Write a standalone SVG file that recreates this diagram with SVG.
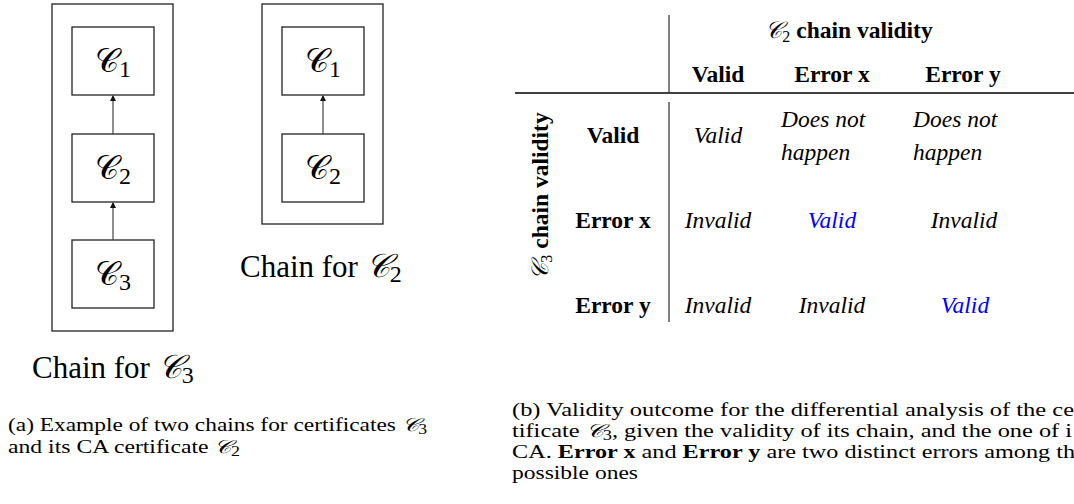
<svg xmlns="http://www.w3.org/2000/svg" width="1074" height="504" viewBox="0 0 1074 504">
<style>
  .frame { fill: none; stroke: #222; stroke-width: 1.3; }
  .node { fill: #fff; stroke: #222; stroke-width: 1.3; }
  .conn { stroke: #444; stroke-width: 1.2; fill: none; }
  .big { font-family: "Liberation Serif", serif; font-size: 31px; fill: #000; }
  .math { font-family: "DejaVu Serif", "DejaVu Sans", "Liberation Serif", serif; }
  .mc { font-size: 33px; }
  .sub { font-size: 24px; }
  .tb { font-family: "Liberation Serif", serif; font-size: 23.5px; fill: #000; }
  .b { font-weight: bold; }
  .it { font-style: italic; }
  .blue { fill: #0000ff; }
  .cap { font-family: "Liberation Serif", serif; font-size: 18.5px; fill: #000; }
  .rule { stroke: #000; stroke-width: 1; }
</style>
<defs>
  <marker id="ah" markerWidth="6" markerHeight="7" refX="5" refY="3" orient="auto" markerUnits="userSpaceOnUse">
    <path d="M0,0 L6,3 L0,6 Z" fill="#111"/>
  </marker>
</defs>

<!-- Panel (a) -->
<g id="chain3">
  <rect class="frame" x="52" y="4" width="121" height="327"/>
  <text class="big" x="32" y="378">Chain for <tspan class="math mc" font-style="italic">𝒞</tspan><tspan class="sub" dy="5">3</tspan></text>
</g>
<g id="chain2">
  <rect class="frame" x="262" y="4" width="121" height="220"/>
  <text class="big" x="240" y="277">Chain for <tspan class="math mc" font-style="italic">𝒞</tspan><tspan class="sub" dy="5">2</tspan></text>
</g>
<g id="c3-c1">
  <rect class="node" x="72" y="27" width="82" height="68"/>
  <text class="big" x="113" y="72" text-anchor="middle"><tspan class="math mc">𝒞</tspan><tspan class="sub" dy="5">1</tspan></text>
</g>
<g id="c3-c2">
  <rect class="node" x="72" y="134" width="82" height="68"/>
  <text class="big" x="113" y="179" text-anchor="middle"><tspan class="math mc">𝒞</tspan><tspan class="sub" dy="5">2</tspan></text>
</g>
<g id="c3-c3">
  <rect class="node" x="72" y="240" width="82" height="68"/>
  <text class="big" x="113" y="285" text-anchor="middle"><tspan class="math mc">𝒞</tspan><tspan class="sub" dy="5">3</tspan></text>
</g>
<g id="c2-c1">
  <rect class="node" x="282" y="27" width="82" height="68"/>
  <text class="big" x="323" y="72" text-anchor="middle"><tspan class="math mc">𝒞</tspan><tspan class="sub" dy="5">1</tspan></text>
</g>
<g id="c2-c2">
  <rect class="node" x="282" y="134" width="82" height="68"/>
  <text class="big" x="323" y="179" text-anchor="middle"><tspan class="math mc">𝒞</tspan><tspan class="sub" dy="5">2</tspan></text>
</g>
<g id="connectors">
  <line class="conn" x1="113" y1="240" x2="113" y2="203" marker-end="url(#ah)"/>
  <line class="conn" x1="113" y1="134" x2="113" y2="96" marker-end="url(#ah)"/>
  <line class="conn" x1="323" y1="134" x2="323" y2="96" marker-end="url(#ah)"/>
</g>

<!-- Panel (b) table -->
<g id="table">
  <line class="rule" x1="669" y1="15" x2="669" y2="92"/>
  <line class="rule" x1="669" y1="102" x2="669" y2="322"/>
  <line x1="515" y1="93" x2="1074" y2="93" stroke="#000" stroke-width="1.4"/>
  <text class="tb b" x="849" y="38" text-anchor="middle"><tspan class="math" font-weight="normal" font-style="italic">𝒞</tspan><tspan font-size="16" dy="4" font-weight="normal">2</tspan><tspan dy="-4"> chain validity</tspan></text>
  <text class="tb b" x="718" y="82" text-anchor="middle">Valid</text>
  <text class="tb b" x="832" y="82" text-anchor="middle">Error x</text>
  <text class="tb b" x="963" y="82" text-anchor="middle">Error y</text>
  <text class="tb b" transform="translate(548,196) rotate(-90)" text-anchor="middle"><tspan class="math" font-weight="normal" font-style="italic">𝒞</tspan><tspan font-size="16" dy="4" font-weight="normal">3</tspan><tspan dy="-4"> chain validity</tspan></text>
  <text class="tb b" x="613" y="143" text-anchor="middle">Valid</text>
  <text class="tb b" x="613" y="228" text-anchor="middle">Error x</text>
  <text class="tb b" x="613" y="313" text-anchor="middle">Error y</text>
  <text class="tb it" x="718" y="143" text-anchor="middle">Valid</text>
  <text class="tb it" x="781" y="127">Does not</text>
  <text class="tb it" x="781" y="160">happen</text>
  <text class="tb it" x="913" y="127">Does not</text>
  <text class="tb it" x="913" y="160">happen</text>
  <text class="tb it" x="718" y="228" text-anchor="middle">Invalid</text>
  <text class="tb it blue" x="832" y="228" text-anchor="middle">Valid</text>
  <text class="tb it" x="964" y="228" text-anchor="middle">Invalid</text>
  <text class="tb it" x="718" y="313" text-anchor="middle">Invalid</text>
  <text class="tb it" x="832" y="313" text-anchor="middle">Invalid</text>
  <text class="tb it blue" x="965" y="313" text-anchor="middle">Valid</text>
</g>

<!-- Captions -->
<g id="caption-a">
  <text class="cap" x="8" y="431" textLength="419" lengthAdjust="spacingAndGlyphs">(a) Example of two chains for certificates <tspan class="math" font-style="italic">𝒞</tspan><tspan font-size="14" dy="3">3</tspan></text>
  <text class="cap" x="8" y="453" textLength="232" lengthAdjust="spacingAndGlyphs">and its CA certificate <tspan class="math" font-style="italic">𝒞</tspan><tspan font-size="14" dy="3">2</tspan></text>
</g>
<g id="caption-b">
  <text class="cap" x="512" y="416" textLength="562" lengthAdjust="spacingAndGlyphs">(b) Validity outcome for the differential analysis of the ce</text>
  <text class="cap" x="512" y="437" textLength="560" lengthAdjust="spacingAndGlyphs">tificate <tspan class="math" font-style="italic">𝒞</tspan><tspan font-size="14" dy="3">3</tspan><tspan dy="-3">, given the validity of its chain, and the one of i</tspan></text>
  <text class="cap" x="512" y="458" textLength="563" lengthAdjust="spacingAndGlyphs">CA. <tspan font-weight="bold">Error x</tspan> and <tspan font-weight="bold">Error y</tspan> are two distinct errors among th</text>
  <text class="cap" x="512" y="479" textLength="126" lengthAdjust="spacingAndGlyphs">possible ones</text>
</g>
</svg>
